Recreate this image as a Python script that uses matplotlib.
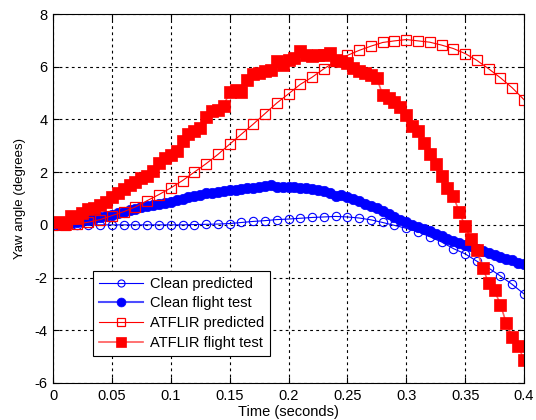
import numpy as np
import matplotlib
matplotlib.use("Agg")
import matplotlib.pyplot as plt

plt.rcParams['font.family'] = ['Liberation Sans', 'DejaVu Sans']
plt.rcParams['axes.unicode_minus'] = False

# Time bases
t_pred = [round(0.01 * i, 3) for i in range(41)]
t_test = [round(0.005 * i, 3) for i in range(1, 81)]

clean_predicted = [0.0, 0.0, 0.0, 0.0, 0.0, 0.0, 0.0, 0.0, 0.0, 0.0,
                   0.0, 0.0, 0.01, 0.02, 0.03, 0.05, 0.09, 0.13, 0.16, 0.2,
                   0.22, 0.25, 0.28, 0.3, 0.32, 0.3, 0.26, 0.19, 0.09, -0.02,
                   -0.13, -0.26, -0.45, -0.65, -0.9, -1.1, -1.38, -1.64, -1.94, -2.26,
                   -2.62]

atflir_predicted = [0.0, 0.0, 0.03, 0.1, 0.2, 0.35, 0.5, 0.68, 0.92, 1.15,
                    1.4, 1.68, 2.0, 2.32, 2.67, 3.06, 3.44, 3.82, 4.22, 4.62,
                    4.97, 5.33, 5.6, 5.92, 6.2, 6.43, 6.62, 6.78, 6.92, 6.98,
                    7.03, 6.98, 6.93, 6.82, 6.69, 6.5, 6.24, 5.92, 5.58, 5.2,
                    4.75]

clean_flight = [0.0, 0.02, 0.06, 0.1, 0.17, 0.2, 0.25, 0.3, 0.33, 0.38,
                0.45, 0.5, 0.56, 0.62, 0.68, 0.72, 0.75, 0.8, 0.84, 0.88,
                0.95, 1.0, 1.05, 1.1, 1.14, 1.2, 1.22, 1.25, 1.3, 1.32,
                1.33, 1.37, 1.39, 1.4, 1.43, 1.47, 1.5, 1.45, 1.45, 1.44,
                1.42, 1.4, 1.38, 1.35, 1.32, 1.27, 1.2, 1.1, 1.15, 1.05,
                0.98, 0.9, 0.8, 0.72, 0.63, 0.52, 0.42, 0.3, 0.2, 0.1,
                0.0, -0.08, -0.15, -0.25, -0.33, -0.42, -0.52, -0.6, -0.67, -0.75,
                -0.82, -0.9, -1.0, -1.08, -1.15, -1.22, -1.3, -1.35, -1.45, -1.5]

atflir_flight = [0.1, 0.05, 0.32, 0.25, 0.44, 0.6, 0.64, 0.76, 0.88, 1.07,
                 1.2, 1.35, 1.52, 1.64, 1.77, 1.86, 2.06, 2.34, 2.55, 2.65,
                 2.8, 3.18, 3.44, 3.57, 3.69, 4.08, 4.33, 4.36, 4.52, 5.05,
                 5.1, 5.05, 5.5, 5.73, 5.78, 5.82, 5.88, 6.2, 6.07, 6.26,
                 6.32, 6.6, 6.45, 6.41, 6.45, 6.45, 6.51, 6.26, 6.2, 6.13,
                 5.94, 5.82, 5.75, 5.69, 5.57, 4.93, 4.8, 4.68, 4.49, 4.17,
                 3.75, 3.55, 3.1, 2.68, 2.3, 1.85, 1.4, 1.08, 0.5, -0.06,
                 -0.54, -0.97, -1.64, -2.21, -2.49, -3.03, -3.73, -4.24, -4.59, -5.12]

series_labels = ["Clean predicted", "Clean flight test", "ATFLIR predicted", "ATFLIR flight test"]
x_ticks = [0, 0.05, 0.1, 0.15, 0.2, 0.25, 0.3, 0.35, 0.4]
x_tick_labels = ["0", "0.05", "0.1", "0.15", "0.2", "0.25", "0.3", "0.35", "0.4"]
y_ticks = [-6, -4, -2, 0, 2, 4, 6, 8]

fig = plt.figure(figsize=(5.36, 4.2), dpi=100)
ax = fig.add_axes([53/536, 1-383/420, (524-53)/536, (383-14)/420])

blue = (0, 0, 1)
red = (1, 0, 0)

ax.plot(t_pred, clean_predicted, color=blue, lw=0.8, marker='o', ms=6,
        mfc='none', mec=blue, mew=0.8, label=series_labels[0])
ax.plot(t_test, clean_flight, color=(0.3, 0.3, 1), lw=1.5, marker='o', ms=7.5,
        mfc=blue, mec=blue, mew=0.5, label=series_labels[1])
ax.plot(t_pred, atflir_predicted, color=red, lw=0.8, marker='s', ms=7.2,
        mfc='none', mec=red, mew=0.9, label=series_labels[2])
ax.plot(t_test, atflir_flight, color=(1, 0.35, 0.35), lw=1.2, marker='s', ms=8.3,
        mfc=red, mec=red, mew=0.5, label=series_labels[3])

ax.set_xlim(0, 0.4)
ax.set_ylim(-6, 8)
ax.set_xticks(x_ticks)
ax.set_xticklabels(x_tick_labels)
ax.set_yticks(y_ticks)
ax.tick_params(direction='in', length=4, width=0.8, labelsize=10.5, top=True, right=True, pad=4)
ax.grid(True, color='black', linestyle=(0, (2.5, 3)), linewidth=0.8)
for s in ax.spines.values():
    s.set_linewidth(0.8)

ax.set_xlabel("Time (seconds)", fontsize=10.5, labelpad=2)
ax.set_ylabel("Yaw angle (degrees)", fontsize=9.5, labelpad=6)

leg = ax.legend(loc='lower left', bbox_to_anchor=((93-53)/471, (383-356)/369),
                fontsize=10.5, frameon=True, fancybox=False, edgecolor='black',
                framealpha=1, borderpad=0.4, labelspacing=0.4, handlelength=3.0,
                handletextpad=0.5, borderaxespad=0, markerscale=0.85)
leg.get_frame().set_linewidth(0.8)

fig.savefig("out.png", dpi=100)
